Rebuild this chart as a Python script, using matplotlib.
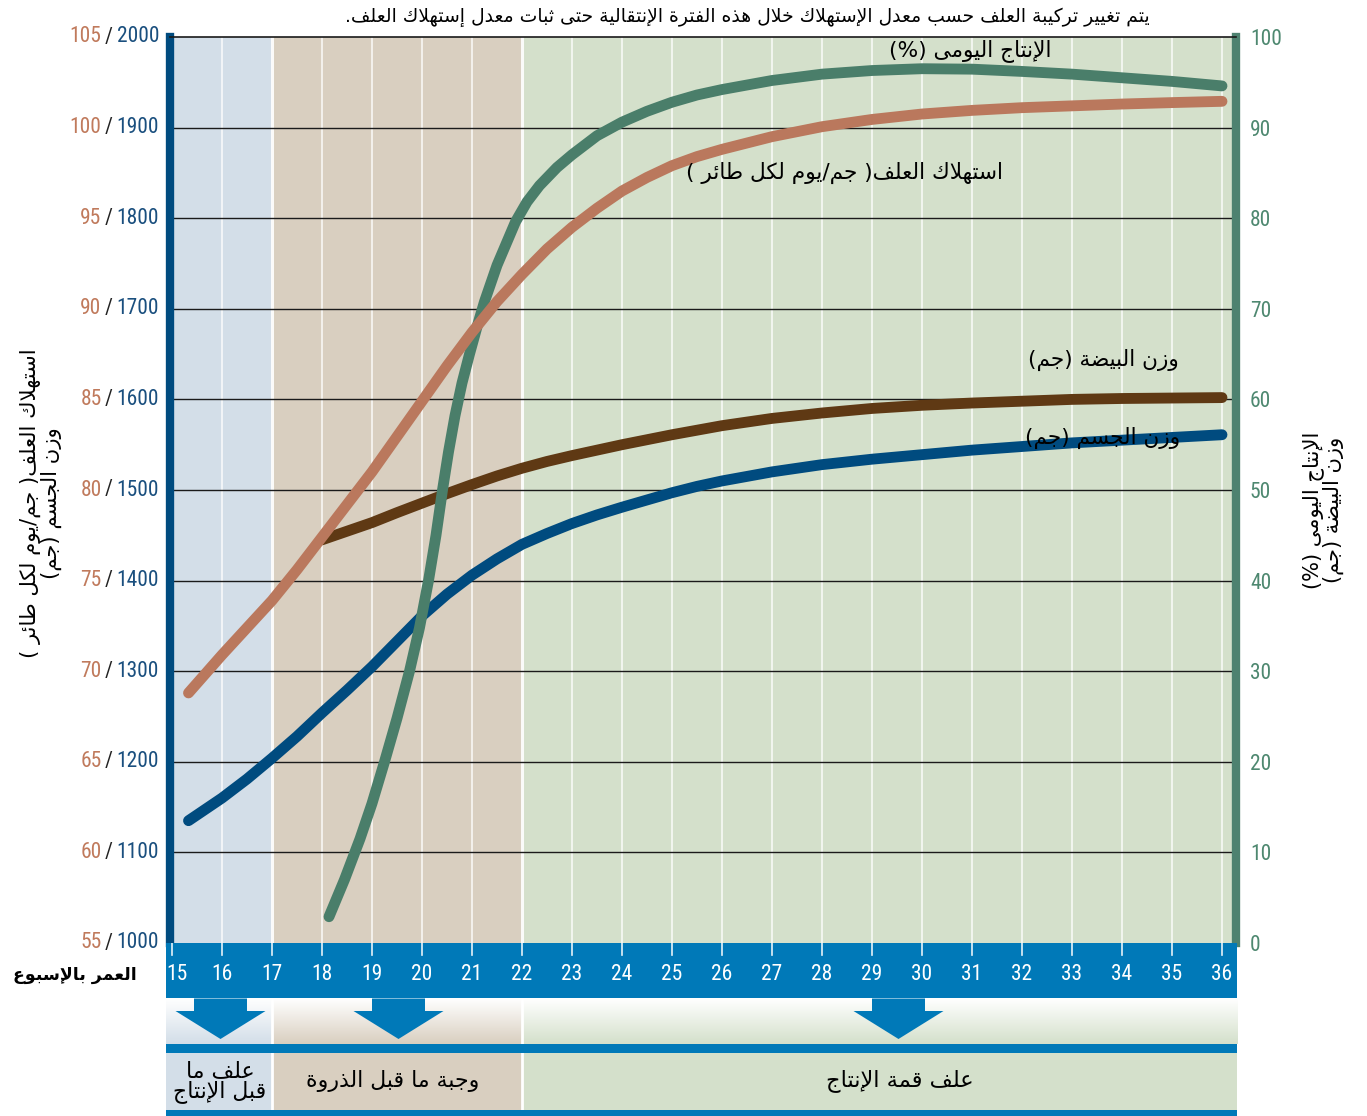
import os
import matplotlib
matplotlib.use('Agg')
import matplotlib.pyplot as plt
import numpy as np
from matplotlib.patches import Rectangle, Polygon
from matplotlib import font_manager as fm
from matplotlib.ft2font import FT2Font

# ---- data ----
weeks = list(range(15, 37))

bw_weeks = [15.33, 16, 16.5, 17, 17.5, 18, 18.5, 19, 19.5, 20, 20.5, 21, 21.5, 22, 22.5, 23, 23.5,
            24, 24.5, 25, 25.5, 26, 27, 28, 29, 30, 31, 32, 33, 34, 35, 36]
bw_grams = [1135, 1160, 1181, 1204, 1228, 1254, 1279, 1305, 1333, 1361, 1385, 1406, 1424, 1440,
            1452, 1463, 1472.5, 1481, 1489, 1497, 1504, 1510, 1520, 1528, 1534, 1539, 1544, 1548,
            1552, 1555, 1558, 1561]

feed_weeks = [15.33, 16, 16.5, 17, 17.5, 18, 18.5, 19, 19.5, 20, 20.5, 21, 21.5, 22, 22.5, 23, 23.5,
              24, 24.5, 25, 25.5, 26, 27, 28, 29, 30, 31, 32, 33, 34, 35, 36]
feed_grams = [68.8, 70.9, 72.4, 73.9, 75.6, 77.4, 79.2, 81.0, 82.95, 84.9, 86.85, 88.7, 90.4, 91.9,
              93.3, 94.5, 95.55, 96.5, 97.25, 97.9, 98.4, 98.8, 99.5, 100.05, 100.45, 100.75, 100.95,
              101.1, 101.2, 101.3, 101.38, 101.45]

egg_weeks = [18.0, 18.5, 19, 19.5, 20, 20.5, 21, 21.5, 22, 22.5, 23, 23.5, 24, 24.5, 25, 26, 27, 28,
             29, 30, 31, 32, 33, 34, 35, 36]
egg_grams = [44.5, 45.45, 46.4, 47.5, 48.55, 49.6, 50.6, 51.55, 52.4, 53.15, 53.8, 54.4, 55.0, 55.55,
             56.1, 57.1, 57.9, 58.5, 59.0, 59.35, 59.6, 59.8, 60.0, 60.1, 60.15, 60.2]

prod_weeks = [18.14, 18.45, 18.76, 19.0, 19.25, 19.5, 19.75, 19.95, 20.13, 20.28, 20.41, 20.53, 20.66,
              20.8, 20.95, 21.1, 21.25, 21.5, 21.87, 22.1, 22.35, 22.7, 23, 23.5, 24, 24.5, 25, 25.5,
              26, 27, 28, 29, 30, 31, 32, 33, 34, 35, 36]
prod_pct = [2.9, 7.0, 11.5, 15.4, 20.0, 24.8, 30.0, 34.8, 40.0, 45.0, 50.0, 54.2, 58.2,
            61.8, 65.0, 68.0, 70.8, 74.8, 79.6, 81.8, 83.6, 85.6, 87.0, 89.1, 90.6, 91.8, 92.8, 93.6,
            94.2, 95.2, 95.9, 96.3, 96.5, 96.45, 96.2, 95.9, 95.5, 95.1, 94.6]

left_feed_ticks = [55, 60, 65, 70, 75, 80, 85, 90, 95, 100, 105]
left_bw_ticks = [1000, 1100, 1200, 1300, 1400, 1500, 1600, 1700, 1800, 1900, 2000]
right_ticks = [0, 10, 20, 30, 40, 50, 60, 70, 80, 90, 100]

phase_bounds = [17, 22]
arrow_weeks = [15.97, 19.53, 29.53]

title = "يتم تغيير تركيبة العلف حسب معدل الإستهلاك خلال هذه الفترة الإنتقالية حتى ثبات معدل إستهلاك العلف."
lbl_prod = "الإنتاج اليومى (%)"
lbl_feed = "استهلاك العلف( جم/يوم لكل طائر )"
lbl_egg = "وزن البيضة (جم)"
lbl_bw = "وزن الجسم (جم)"
ylabel_left = "استهلاك العلف( جم/يوم لكل طائر )\nوزن الجسم (جم)"
ylabel_right = "الإنتاج اليومى (%)\nوزن البيضة (جم)"
xlabel = "العمر بالإسبوع"
phase_names = ["علف ما\nقبل الإنتاج", "وجبة ما قبل الذروة", "علف قمة الإنتاج"]

# colours
C_BLUE = '#004B7F'
C_SALMON = '#BA785D'
C_BROWN = '#5F3914'
C_GREEN = '#4A7E6A'
C_BAND = '#0079B8'
C_BG = ['#D3DEE8', '#D9CFC0', '#D4E0CB']
C_TICK_SALMON = '#C07A5C'
C_TICK_BLUE = '#1A4F7E'
C_TICK_GREEN = '#4E8870'


# ---- minimal arabic shaping (no reshaper lib available) ----
_letters = [('\u0621', 1), ('\u0622', 2), ('\u0623', 2), ('\u0624', 2), ('\u0625', 2), ('\u0626', 4),
            ('\u0627', 2), ('\u0628', 4), ('\u0629', 2), ('\u062A', 4), ('\u062B', 4), ('\u062C', 4),
            ('\u062D', 4), ('\u062E', 4), ('\u062F', 2), ('\u0630', 2), ('\u0631', 2), ('\u0632', 2),
            ('\u0633', 4), ('\u0634', 4), ('\u0635', 4), ('\u0636', 4), ('\u0637', 4), ('\u0638', 4),
            ('\u0639', 4), ('\u063A', 4), ('\u0641', 4), ('\u0642', 4), ('\u0643', 4), ('\u0644', 4),
            ('\u0645', 4), ('\u0646', 4), ('\u0647', 4), ('\u0648', 2), ('\u0649', 2), ('\u064A', 4)]
FORMS = {}
_code = 0xFE80
for _ch, _n in _letters:
    FORMS[_ch] = [_code + k for k in range(_n)]
    _code += _n
LAMALEF = {'\u0622': 0xFEF5, '\u0623': 0xFEF7, '\u0625': 0xFEF9, '\u0627': 0xFEFB}


def shape_line(s):
    out = []
    i = 0
    n = len(s)
    while i < n:
        c = s[i]
        if c not in FORMS:
            out.append(c)
            i += 1
            continue
        prev = s[i - 1] if i > 0 else ''
        conn_prev = prev in FORMS and len(FORMS[prev]) == 4 and len(FORMS[c]) >= 2
        if c == '\u0644' and i + 1 < n and s[i + 1] in LAMALEF:
            out.append(chr(LAMALEF[s[i + 1]] + (1 if conn_prev else 0)))
            i += 2
            continue
        nxt = s[i + 1] if i + 1 < n else ''
        conn_next = len(FORMS[c]) == 4 and nxt in FORMS and len(FORMS[nxt]) >= 2
        f = FORMS[c]
        if conn_prev and conn_next:
            g = f[3]
        elif conn_prev:
            g = f[1]
        elif conn_next:
            g = f[2]
        else:
            g = f[0]
        out.append(chr(g))
        i += 1
    return ''.join(out)


def ar(text):
    mirror = str.maketrans('()', ')(')
    return '\n'.join(shape_line(l)[::-1].translate(mirror) for l in text.split('\n'))


# ---- fonts ----
def find_file(names):
    by_base = {os.path.basename(f.fname).lower(): f.fname for f in fm.fontManager.ttflist}
    for nm in names:
        if nm.lower() in by_base:
            return by_base[nm.lower()]
    return None


num_file = find_file(['LiberationSansNarrow-Regular.ttf', 'RobotoCondensed-Regular.ttf',
                      'NotoSans-Condensed.ttf', 'NotoSans-SemiCondensed.ttf',
                      'DejaVuSansCondensed.ttf', 'Roboto_Condensed-Regular.ttf'])


def numfont(size):
    if num_file:
        return fm.FontProperties(fname=num_file, size=size)
    return fm.FontProperties(family='Liberation Sans', size=size)


all_ar = ''.join(ar(t) for t in [title, lbl_prod, lbl_feed, lbl_egg, lbl_bw, xlabel] + phase_names)
ar_file = None
for cand in ['NotoNaskhArabic-Regular.ttf', 'NotoSansArabic-Regular.ttf']:
    p = find_file([cand])
    if p:
        try:
            cmap = FT2Font(p).get_charmap()
            if all(ord(ch) in cmap for ch in set(all_ar) if ch not in ' \n'):
                ar_file = p
                break
        except Exception:
            pass


def arfont(size, bold=False):
    if ar_file and not bold:
        return fm.FontProperties(fname=ar_file, size=size)
    return fm.FontProperties(family='DejaVu Sans', size=size, weight='bold' if bold else 'normal')


# ---- figure ----
W, H = 1367, 1116
fig = plt.figure(figsize=(W / 100, H / 100), dpi=100)


def fx(px):
    return px / W


def fy(py):
    return 1 - py / H


ax = fig.add_axes([fx(170), fy(943), fx(1236) - fx(170), fy(37) - fy(943)])
ax.set_xlim(15 - 2 / 50, 36 + 14 / 50)
ax.set_ylim(1000, 2000)

# phase backgrounds
x0, x1 = ax.get_xlim()
edges = [x0] + phase_bounds + [x1]
for k in range(3):
    ax.axvspan(edges[k], edges[k + 1], color=C_BG[k], lw=0, zorder=0)
for w in weeks:
    ax.axvline(w, color='white', lw=2.2 if w in phase_bounds else 1.1, alpha=0.9, zorder=1)
for v in left_bw_ticks[1:-1]:
    ax.axhline(v, color='#1a1a1a', lw=1.0, zorder=2)

ax.spines['bottom'].set_visible(False)
ax.spines['top'].set_color('#1a1a1a')
ax.spines['top'].set_linewidth(1.2)
ax.spines['left'].set_color(C_BLUE)
ax.spines['left'].set_linewidth(6)
ax.spines['right'].set_color('#4E8270')
ax.spines['right'].set_linewidth(6)
ax.set_xticks([])
ax.set_yticks([])

LW = 7.8
ax.plot(bw_weeks, bw_grams, color=C_BLUE, lw=LW, solid_capstyle='round', zorder=3)

ax_r = ax.twinx()
ax_r.set_ylim(0, 100)
ax_f = ax.twinx()
ax_f.set_ylim(55, 105)
for a in (ax_r, ax_f):
    for s in a.spines.values():
        s.set_visible(False)
    a.set_xticks([])
ax_f.set_yticks([])
ax_r.set_zorder(1)
ax_f.set_zorder(2)

ax_r.plot(egg_weeks, egg_grams, color=C_BROWN, lw=LW, solid_capstyle='round', zorder=3)
ax_r.plot(prod_weeks, prod_pct, color=C_GREEN, lw=LW, solid_capstyle='round', zorder=4)
ax_f.plot(feed_weeks, feed_grams, color=C_SALMON, lw=LW, solid_capstyle='round', zorder=3)

ax_r.set_yticks(right_ticks)
ax_r.set_yticklabels([str(t) for t in right_ticks], color=C_TICK_GREEN)
for lab in ax_r.get_yticklabels():
    lab.set_fontproperties(numfont(15.5))
ax_r.tick_params(axis='y', length=0, pad=10)

# left double tick labels (feed / body weight)
ytr = ax.get_yaxis_transform()
for fv, bv in zip(left_feed_ticks, left_bw_ticks):
    tb = ax.text((159 - 170) / 1066, bv, str(bv), transform=ytr, ha='right', va='center',
                 fontproperties=numfont(15.5), color=C_TICK_BLUE, clip_on=False)
    ts = ax.annotate('/', xy=(0, 0.5), xycoords=tb, xytext=(-2.5, 0), textcoords='offset points',
                     ha='right', va='center', fontproperties=numfont(15.5), color='#222222',
                     annotation_clip=False)
    ax.annotate(str(fv), xy=(0, 0.5), xycoords=ts, xytext=(-2.5, 0), textcoords='offset points',
                ha='right', va='center', fontproperties=numfont(15.5), color=C_TICK_SALMON,
                annotation_clip=False)

# ---- bottom band ----
axb = fig.add_axes([fx(166), 0, fx(1237) - fx(166), fy(943)])
axb.set_xlim(15 - 6 / 50, 36 + 15 / 50)
axb.set_ylim(0, 173)
axb.axis('off')
bx0, bx1 = axb.get_xlim()
bedges = [bx0] + phase_bounds + [bx1]

axb.add_patch(Rectangle((bx0, 117), bx1 - bx0, 56, color=C_BAND, lw=0))
for w in weeks:
    axb.plot([w, w], [161, 173], color='white', lw=1.2, alpha=0.9)
for w in weeks:
    axb.text(w + (0.1 if w == 15 else 0), 141.5, str(w), ha='center', va='center', color='white',
             fontproperties=numfont(15.5))

for k in range(3):
    col = np.array(matplotlib.colors.to_rgb(C_BG[k]))
    t = np.linspace(0, 1, 60)[:, None]
    grad = (1 - t) * col + t * np.ones(3)
    axb.imshow(grad[:, None, :], extent=(bedges[k], bedges[k + 1], 72, 117), origin='lower',
               aspect='auto', interpolation='bilinear', zorder=1)
    axb.add_patch(Rectangle((bedges[k], 6), bedges[k + 1] - bedges[k], 57, color=C_BG[k], lw=0, zorder=1))
for b in phase_bounds:
    axb.plot([b, b], [6, 117], color='white', lw=2.0, zorder=2)

axb.add_patch(Rectangle((bx0, 63), bx1 - bx0, 9, color=C_BAND, lw=0, zorder=3))
axb.add_patch(Rectangle((bx0, 0), bx1 - bx0, 6, color=C_BAND, lw=0, zorder=3))

for c in arrow_weeks:
    pts = [(c - 0.53, 117.5), (c + 0.53, 117.5), (c + 0.53, 105), (c + 0.9, 105), (c, 77),
           (c - 0.9, 105), (c - 0.53, 105)]
    axb.add_patch(Polygon(pts, closed=True, color=C_BAND, lw=0, zorder=4))

axb.set_xlim(bx0, bx1)
axb.set_ylim(0, 173)

# ---- texts ----
fig.text(fx(1150), fy(17), ar(title), ha='right', va='center', fontproperties=arfont(13.5))
fig.text(fx(970), fy(51), ar(lbl_prod), ha='center', va='center', fontproperties=arfont(15.6), zorder=10)
fig.text(fx(844), fy(173), ar(lbl_feed), ha='center', va='center', fontproperties=arfont(15.6), zorder=10)
fig.text(fx(1103), fy(360), ar(lbl_egg), ha='center', va='center', fontproperties=arfont(15.6), zorder=10)
fig.text(fx(1103), fy(438), ar(lbl_bw), ha='center', va='center', fontproperties=arfont(15.6), zorder=10)

fig.text(fx(41), fy(503), ar(ylabel_left), rotation=90, ha='center', va='center', multialignment='center',
         fontproperties=arfont(15.2), linespacing=0.95)
fig.text(fx(1323), fy(510), ar(ylabel_right), rotation=90, ha='center', va='center', multialignment='center',
         fontproperties=arfont(15.1), linespacing=0.95)
fig.text(fx(75), fy(975), ar(xlabel), ha='center', va='center', fontproperties=arfont(12.5, bold=True))

phase_px = [(220, 1082), (393, 1081), (900, 1081)]
phase_sz = [15.8, 15.8, 16.2]
for name, (px, py), sz in zip(phase_names, phase_px, phase_sz):
    fig.text(fx(px), fy(py), ar(name), ha='center', va='center', multialignment='center',
             fontproperties=arfont(sz), linespacing=0.95, zorder=10)

fig.savefig('out.png', dpi=100)
